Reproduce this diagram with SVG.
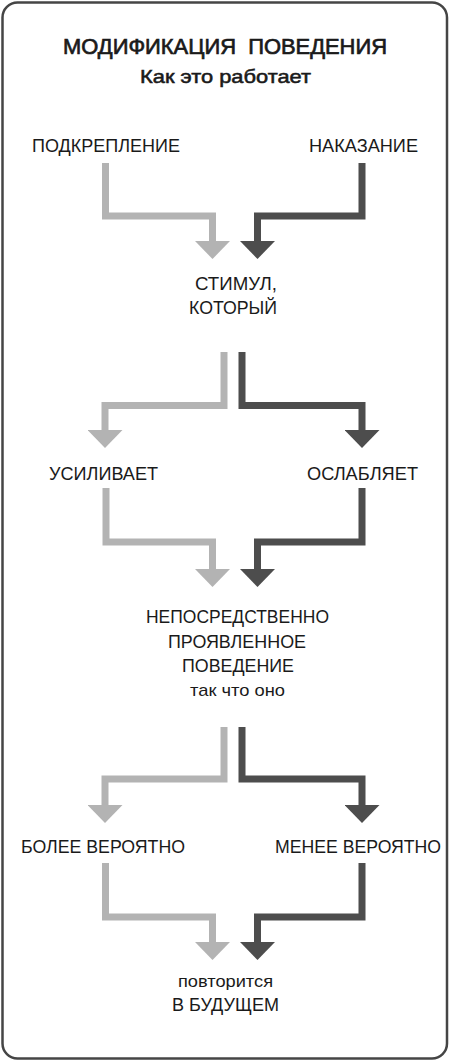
<svg xmlns="http://www.w3.org/2000/svg" width="450" height="1061" viewBox="0 0 450 1061">
<style>
text{font-family:"Liberation Sans","DejaVu Sans",sans-serif;fill:#1a1a1a;text-anchor:middle}
.t{font-size:22px;stroke:#1a1a1a;stroke-width:0.7px}
.s{font-size:19px;stroke:#1a1a1a;stroke-width:0.55px}
.l{font-size:17.5px}
.m{font-size:17px}
.lt{fill:none;stroke:#b3b3b3;stroke-width:7;stroke-linejoin:miter}
.dk{fill:none;stroke:#4d4d4d;stroke-width:7;stroke-linejoin:miter}
</style>
<defs>
<marker id="hl" markerUnits="userSpaceOnUse" markerWidth="18" markerHeight="35" refX="0" refY="17.5" orient="auto" viewBox="0 0 18 35"><path d="M0,0 L18,17.5 L0,35 Z" fill="#b3b3b3"/></marker>
<marker id="hd" markerUnits="userSpaceOnUse" markerWidth="18" markerHeight="35" refX="0" refY="17.5" orient="auto" viewBox="0 0 18 35"><path d="M0,0 L18,17.5 L0,35 Z" fill="#4d4d4d"/></marker>
</defs>
<rect x="2.5" y="2.5" width="444.5" height="1056" rx="15" fill="#fff" stroke="#454545" stroke-width="2.5"/>
<g id="title">
<text class="t" x="225" y="54" textLength="324" lengthAdjust="spacingAndGlyphs" xml:space="preserve">МОДИФИКАЦИЯ  ПОВЕДЕНИЯ</text>
<text class="s" x="225.5" y="83" textLength="171" lengthAdjust="spacingAndGlyphs">Как это работает</text>
</g>
<g id="n-podkreplenie"><text class="l" x="106" y="152" textLength="148" lengthAdjust="spacingAndGlyphs">ПОДКРЕПЛЕНИЕ</text></g>
<g id="n-nakazanie"><text class="l" x="363.5" y="152" textLength="109" lengthAdjust="spacingAndGlyphs">НАКАЗАНИЕ</text></g>
<g id="n-stimul">
<text class="l" x="236" y="290" textLength="82" lengthAdjust="spacingAndGlyphs">СТИМУЛ,</text>
<text class="l" x="233" y="314" textLength="88" lengthAdjust="spacingAndGlyphs">КОТОРЫЙ</text>
</g>
<g id="n-usilivaet"><text class="l" x="103.5" y="480" textLength="109" lengthAdjust="spacingAndGlyphs">УСИЛИВАЕТ</text></g>
<g id="n-oslablyaet"><text class="l" x="362.5" y="480" textLength="111" lengthAdjust="spacingAndGlyphs">ОСЛАБЛЯЕТ</text></g>
<g id="n-povedenie">
<text class="l" x="237.5" y="623" textLength="183" lengthAdjust="spacingAndGlyphs">НЕПОСРЕДСТВЕННО</text>
<text class="l" x="237" y="648" textLength="138" lengthAdjust="spacingAndGlyphs">ПРОЯВЛЕННОЕ</text>
<text class="l" x="238" y="672" textLength="112" lengthAdjust="spacingAndGlyphs">ПОВЕДЕНИЕ</text>
<text class="m" x="237.5" y="696" textLength="95" lengthAdjust="spacingAndGlyphs">так что оно</text>
</g>
<g id="n-bolee"><text class="l" x="103" y="853" textLength="164" lengthAdjust="spacingAndGlyphs">БОЛЕЕ ВЕРОЯТНО</text></g>
<g id="n-menee"><text class="l" x="358" y="853" textLength="166" lengthAdjust="spacingAndGlyphs">МЕНЕЕ ВЕРОЯТНО</text></g>
<g id="n-future">
<text class="m" x="225.5" y="987" textLength="95" lengthAdjust="spacingAndGlyphs">повторится</text>
<text class="l" x="225.5" y="1011" textLength="107" lengthAdjust="spacingAndGlyphs">В БУДУЩЕМ</text>
</g>
<g id="connectors">
<path class="lt" d="M105.5,163 V216 H212.5 V241" marker-end="url(#hl)"/>
<path class="dk" d="M362,163 V216 H257.5 V241" marker-end="url(#hd)"/>
<path class="lt" d="M224,352 V405.5 H105 V430" marker-end="url(#hl)"/>
<path class="dk" d="M242,352 V405.5 H362 V430" marker-end="url(#hd)"/>
<path class="lt" d="M106,488 V542 H212.5 V569" marker-end="url(#hl)"/>
<path class="dk" d="M362,488 V542 H257.5 V569" marker-end="url(#hd)"/>
<path class="lt" d="M224,727 V779 H105 V805" marker-end="url(#hl)"/>
<path class="dk" d="M242,727 V779 H362 V805" marker-end="url(#hd)"/>
<path class="lt" d="M105.5,863 V917 H212.5 V942" marker-end="url(#hl)"/>
<path class="dk" d="M362,863 V917 H257.5 V942" marker-end="url(#hd)"/>
</g>
</svg>
